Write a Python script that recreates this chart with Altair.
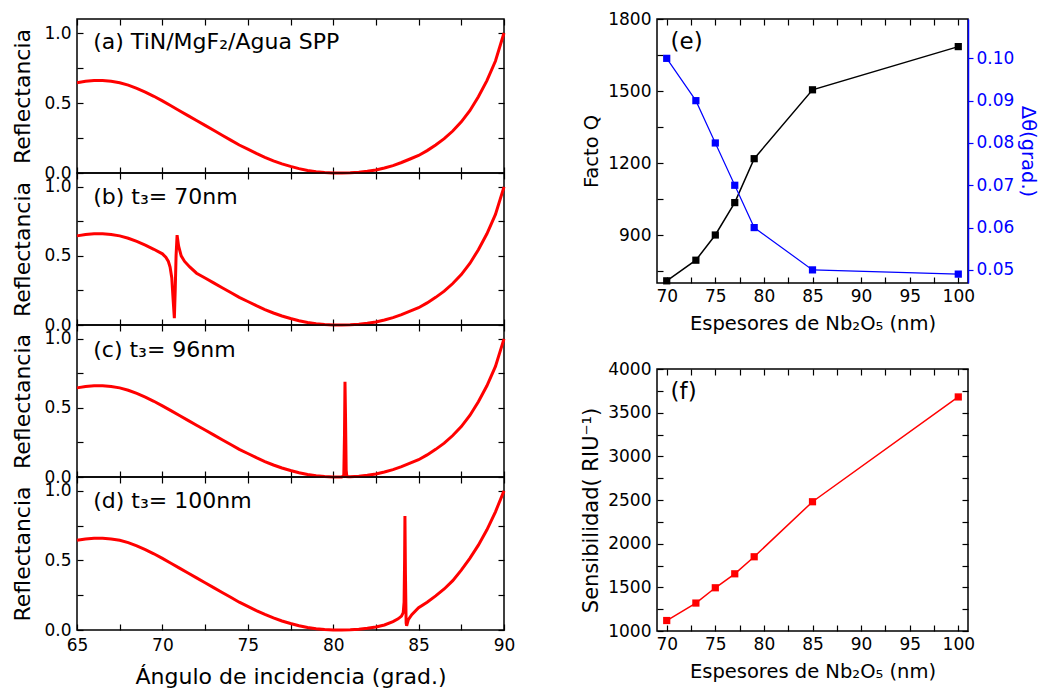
import altair as alt
import pandas as pd

FONT = "DejaVu Sans"
RED = "#ff0000"
BLUE = "#0000ff"

# ---------------- data: reflectance curves (left column) ----------------
base_angle = [65, 65.5, 66, 66.5, 67, 67.5, 68, 68.5, 69, 69.5,
              70, 70.5, 71, 71.5, 72, 72.5, 73, 73.5, 74, 74.5,
              75, 75.5, 76, 76.5, 77, 77.5, 78, 78.5, 79, 79.5,
              80, 80.5, 81, 81.5, 82, 82.5, 83, 83.5, 84, 84.5,
              85, 85.5, 86, 86.5, 87, 87.5, 88, 88.5, 89, 89.5, 90]
base_refl = [0.645, 0.655, 0.66, 0.66, 0.655, 0.645, 0.628, 0.605, 0.578, 0.548,
             0.515, 0.48, 0.445, 0.41, 0.375, 0.34, 0.305, 0.27, 0.235, 0.2,
             0.17, 0.14, 0.112, 0.087, 0.065, 0.047, 0.031, 0.018, 0.009, 0.003,
             0.0005, 0.0, 0.001, 0.005, 0.012, 0.022, 0.036, 0.053, 0.075, 0.1,
             0.125, 0.16, 0.2, 0.245, 0.3, 0.365, 0.445, 0.545, 0.66, 0.8, 1.0]

# (b) t3 = 70 nm : Fano resonance near 70.8 deg
b_angle = [70.0, 70.2, 70.35, 70.45, 70.55, 70.63, 70.7, 70.75, 70.8, 70.86,
           70.95, 71.1, 71.3, 71.6]
b_refl = [0.515, 0.49, 0.46, 0.42, 0.34, 0.18, 0.05, 0.25, 0.5, 0.65,
          0.57, 0.5, 0.46, 0.42]

# (c) t3 = 96 nm : narrow peak near 80.7 deg
c_angle = [80.5, 80.62, 80.66, 80.69, 80.72, 80.76, 80.8, 80.9]
c_refl = [0.0, 0.01, 0.3, 0.69, 0.45, 0.05, 0.002, 0.001]

# (d) t3 = 100 nm : narrow peak near 84.2 deg
d_angle = [83.5, 83.8, 84.0, 84.1, 84.15, 84.18, 84.2, 84.23, 84.27, 84.3,
           84.4, 84.6, 85, 85.5, 86, 86.5, 87, 87.5, 88, 88.5, 89, 89.5, 90]
d_refl = [0.06, 0.08, 0.1, 0.125, 0.2, 0.5, 0.82, 0.4, 0.05, 0.03,
          0.075, 0.11, 0.16, 0.2, 0.245, 0.295, 0.355, 0.43, 0.515, 0.61,
          0.72, 0.85, 1.0]

# ---------------- data: right column ----------------
thickness = [70, 73, 75, 77, 79, 85, 100]
q_factor = [709, 795, 900, 1035, 1218, 1505, 1685]
delta_theta = [0.100, 0.090, 0.080, 0.070, 0.060, 0.050, 0.049]
sensitivity = [1120, 1320, 1495, 1655, 1850, 2480, 3680]

# ---------------- axis tick lists ----------------
X_LEFT_TICKS = [65, 67.5, 70, 72.5, 75, 77.5, 80, 82.5, 85, 87.5, 90]
Y_LEFT_TICKS = [0, 0.25, 0.5, 0.75, 1.0]
X_RIGHT_TICKS = [70, 72.5, 75, 77.5, 80, 82.5, 85, 87.5, 90, 92.5, 95, 97.5, 100]
Q_TICKS = [750, 900, 1050, 1200, 1350, 1500, 1650, 1800]
D_TICKS = [0.05, 0.06, 0.07, 0.08, 0.09, 0.1]
S_TICKS = [1000, 1250, 1500, 1750, 2000, 2250, 2500, 2750, 3000, 3250, 3500, 3750, 4000]

TS = 6  # tick length (drawn inward)


def ax(orient, values, labels=True, label_expr=None, title=None, color="black",
       label_size=17, title_size=20, label_pad=6, title_pad=10, title_y=None):
    kw = dict(orient=orient, values=values, offset=-TS, tickSize=TS,
              tickColor=color, tickWidth=1.2, domain=False, grid=False,
              labels=labels, labelFont=FONT, labelFontSize=label_size,
              labelColor=color, labelPadding=label_pad, labelFlush=False,
              labelOverlap=False)
    if labels and label_expr:
        kw["labelExpr"] = label_expr
    if title:
        kw.update(title=title, titleFont=FONT, titleFontSize=title_size,
                  titleColor=color, titlePadding=title_pad,
                  titleFontWeight="normal")
        if title_y is not None:
            kw["titleY"] = title_y
    else:
        kw["title"] = None
    return alt.Axis(**kw)


def merged(lo, hi, angs, refls):
    pts = [(a, r) for a, r in zip(base_angle, base_refl) if not (lo <= a <= hi)]
    pts += list(zip(angs, refls))
    pts.sort()
    return pd.DataFrame(pts, columns=["ang", "R"])


X5 = "datum.value % 5 == 0 ? format(datum.value, 'd') : ''"


def left_panel(df, label, label_y, height, bottom):
    xs = alt.Scale(domain=[65, 90], nice=False, zero=False)
    ys = alt.Scale(domain=[0, 1.1], nice=False, zero=False)
    main = alt.Chart(df).mark_line(color=RED, strokeWidth=3).encode(
        x=alt.X("ang:Q", scale=xs,
                axis=ax("bottom", X_LEFT_TICKS, labels=bottom, label_expr=X5,
                        title="Ángulo de incidencia (grad.)" if bottom else None,
                        title_size=22, label_pad=7, title_pad=13)),
        y=alt.Y("R:Q", scale=ys,
                axis=ax("left", Y_LEFT_TICKS,
                        label_expr="datum.value % 0.5 == 0 ? format(datum.value, '.1f') : ''",
                        title="Reflectancia", title_size=22, label_pad=6, title_pad=9)),
    )
    ticks = alt.Chart(df).mark_line(opacity=0).encode(
        x=alt.X("ang:Q", scale=xs, axis=ax("top", X_LEFT_TICKS, labels=False)),
        y=alt.Y("R:Q", scale=ys, axis=ax("right", Y_LEFT_TICKS, labels=False)),
    )
    txt = alt.Chart(pd.DataFrame({"x": [65.95], "y": [label_y], "t": [label]})).mark_text(
        align="left", baseline="middle", font=FONT, fontSize=22, color="black"
    ).encode(
        x=alt.X("x:Q", scale=xs, axis=None),
        y=alt.Y("y:Q", scale=ys, axis=None),
        text="t:N",
    )
    return alt.layer(main, ticks, txt).resolve_axis(
        x="independent", y="independent"
    ).properties(width=427, height=height)


df_a = pd.DataFrame({"ang": base_angle, "R": base_refl})
df_b = merged(70.0, 71.6, b_angle, b_refl)
df_c = merged(80.5, 80.9, c_angle, c_refl)
df_d = merged(83.5, 90.0, d_angle, d_refl)

pa = left_panel(df_a, "(a) TiN/MgF₂/Agua SPP", 0.935, 154, False)
pb = left_panel(df_b, "(b) t₃= 70nm", 0.925, 152, False)
pc = left_panel(df_c, "(c) t₃= 96nm", 0.92, 152, False)
pd_ = left_panel(df_d, "(d) t₃= 100nm", 0.93, 153, True)

left = alt.vconcat(pa, pb, pc, pd_, spacing=0, bounds="flush")

# ---------------- right column ----------------
df_r = pd.DataFrame({"t": thickness, "Q": q_factor, "d": delta_theta, "S": sensitivity})
xs2 = alt.Scale(domain=[69, 101], nice=False, zero=False)
ysq = alt.Scale(domain=[700, 1800], nice=False, zero=False)
ysd = alt.Scale(domain=[0.0469, 0.1093], nice=False, zero=False)
yss = alt.Scale(domain=[1000, 4000], nice=False, zero=False)

XT = "Espesores de Nb₂O₅ (nm)"

black = alt.Chart(df_r).mark_line(
    color="black", strokeWidth=1.5,
    point=alt.OverlayMarkDef(shape="square", filled=True, size=52, color="black", opacity=1),
).encode(
    x=alt.X("t:Q", scale=xs2, axis=ax("bottom", X_RIGHT_TICKS, label_expr=X5, title=XT,
                                       title_size=19.5, label_pad=5, title_pad=10)),
    y=alt.Y("Q:Q", scale=ysq, axis=ax("left", Q_TICKS,
                                      label_expr="datum.value % 300 == 0 ? format(datum.value, 'd') : ''",
                                      title="Facto Q", title_size=19.5, label_pad=6, title_pad=6)),
)
blue_axis = alt.Axis(
    orient="right", values=D_TICKS, format=".2f", offset=0, tickSize=5,
    tickColor=BLUE, tickWidth=1.2, domain=True, domainColor=BLUE, domainWidth=1.5,
    grid=False, labelFont=FONT, labelFontSize=17, labelColor=BLUE, labelPadding=3,
    labelFlush=False, labelOverlap=False, title="Δθ(grad.)", titleFont=FONT,
    titleFontSize=19.5, titleColor=BLUE, titlePadding=4, titleFontWeight="normal",
)
blue = alt.Chart(df_r).mark_line(
    color=BLUE, strokeWidth=1.2,
    point=alt.OverlayMarkDef(shape="square", filled=True, size=52, color=BLUE, opacity=1),
).encode(
    x=alt.X("t:Q", scale=xs2, axis=ax("top", X_RIGHT_TICKS, labels=False)),
    y=alt.Y("d:Q", scale=ysd, axis=blue_axis),
)
txt_e = alt.Chart(pd.DataFrame({"x": [70.4], "y": [1705], "t": ["(e)"]})).mark_text(
    align="left", baseline="middle", font=FONT, fontSize=23, color="black"
).encode(x=alt.X("x:Q", scale=xs2, axis=None), y=alt.Y("y:Q", scale=ysq, axis=None), text="t:N")

pe = alt.layer(black, blue, txt_e).resolve_scale(y="independent").resolve_axis(
    x="independent", y="independent"
).properties(width=311, height=264)

red = alt.Chart(df_r).mark_line(
    color=RED, strokeWidth=1.5,
    point=alt.OverlayMarkDef(shape="square", filled=True, size=52, color=RED, opacity=1),
).encode(
    x=alt.X("t:Q", scale=xs2, axis=ax("bottom", X_RIGHT_TICKS, label_expr=X5, title=XT,
                                       title_size=19.5, label_pad=5, title_pad=10)),
    y=alt.Y("S:Q", scale=yss, axis=ax("left", S_TICKS,
                                      label_expr="datum.value % 500 == 0 ? format(datum.value, 'd') : ''",
                                      title="Sensibilidad( RIU⁻¹)", title_size=21, label_pad=6,
                                      title_pad=6, title_y=141)),
)
ticks_f = alt.Chart(df_r).mark_line(opacity=0).encode(
    x=alt.X("t:Q", scale=xs2, axis=ax("top", X_RIGHT_TICKS, labels=False)),
    y=alt.Y("S:Q", scale=yss, axis=ax("right", S_TICKS, labels=False)),
)
txt_f = alt.Chart(pd.DataFrame({"x": [70.4], "y": [3740], "t": ["(f)"]})).mark_text(
    align="left", baseline="middle", font=FONT, fontSize=23, color="black"
).encode(x=alt.X("x:Q", scale=xs2, axis=None), y=alt.Y("y:Q", scale=yss, axis=None), text="t:N")

pf = alt.layer(red, ticks_f, txt_f).resolve_axis(
    x="independent", y="independent"
).properties(width=311, height=262)

right = alt.vconcat(pe, pf, spacing=86, bounds="flush")

chart = alt.hconcat(left, right, spacing=63).properties(
    padding={"left": 11, "top": 9, "right": 0, "bottom": 0},
    background="white",
).configure_view(stroke="black", strokeWidth=1.5)

chart.save("out.html", embed_options={"renderer": "svg", "actions": False})
